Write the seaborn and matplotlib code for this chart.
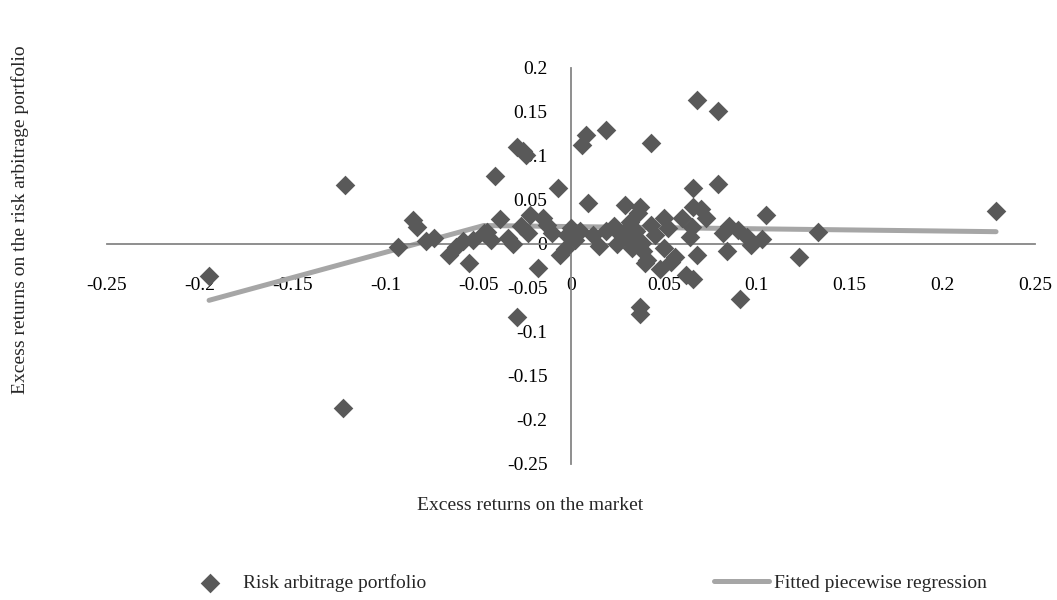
import matplotlib
matplotlib.use("Agg")
import matplotlib.pyplot as plt
import matplotlib.ticker as mticker
import seaborn as sns

# excess market return vs excess risk-arbitrage return
market_x = [-0.195, -0.122, -0.123, -0.093, -0.085, -0.083, -0.078, -0.074, -0.066, -0.062,
            -0.058, -0.055, -0.053, -0.045, -0.041, -0.038, -0.034, -0.031, -0.029, -0.026,
            -0.024, -0.027, -0.023, -0.029, -0.022, -0.018, -0.015, -0.013, -0.010, -0.007,
            -0.006, -0.003, 0.000, 0.002, 0.006, 0.008, 0.009, 0.005, 0.012, 0.015,
            0.019, 0.019, 0.023, 0.027, 0.029, 0.031, 0.032, 0.033, 0.035, 0.036,
            0.037, 0.038, 0.039, 0.041, 0.043, 0.037, 0.037, 0.043, 0.045, 0.048,
            0.050, 0.050, 0.052, 0.054, 0.056, 0.060, 0.062, 0.064, 0.065, 0.066,
            0.066, 0.066, 0.068, 0.068, 0.070, 0.073, 0.079, 0.079, 0.082, 0.085,
            0.084, 0.090, 0.091, 0.095, 0.097, 0.103, 0.105, 0.123, 0.133, 0.229,
            0.025, 0.029, -0.002, 0.040, -0.047, -0.043]
arb_y = [-0.036, 0.067, -0.186, -0.003, 0.027, 0.019, 0.003, 0.007, -0.012, -0.003,
         0.003, -0.022, 0.004, 0.014, 0.077, 0.028, 0.007, 0.000, 0.110, 0.106,
         0.101, 0.020, 0.012, -0.083, 0.033, -0.027, 0.030, 0.022, 0.012, 0.064,
         -0.012, -0.006, 0.018, 0.004, 0.113, 0.124, 0.047, 0.015, 0.010, -0.002,
         0.129, 0.015, 0.020, 0.010, 0.044, 0.005, 0.025, -0.005, 0.015, 0.035,
         0.042, 0.001, -0.008, -0.018, 0.115, -0.072, -0.080, 0.022, 0.010, -0.028,
         0.030, -0.005, 0.018, -0.020, -0.015, 0.030, -0.035, 0.008, 0.019, 0.042,
         0.064, -0.040, -0.013, 0.164, 0.040, 0.030, 0.151, 0.068, 0.012, 0.020,
         -0.008, 0.016, -0.062, 0.008, -0.001, 0.006, 0.033, -0.015, 0.014, 0.037,
         0.000, 0.015, 0.010, -0.022, 0.013, 0.005]

# fitted piecewise regression (two segments)
fit_x = [-0.195, -0.047, 0.229]
fit_y = [-0.064, 0.021, 0.014]

x_ticks = [-0.25, -0.2, -0.15, -0.1, -0.05, 0, 0.05, 0.1, 0.15, 0.2, 0.25]
y_ticks = [-0.25, -0.2, -0.15, -0.1, -0.05, 0, 0.05, 0.1, 0.15, 0.2]

sns.set_style("white")
plt.rcParams['font.family'] = ['Liberation Serif', 'DejaVu Serif']

fig = plt.figure(figsize=(10.57, 6), dpi=100)
ax = fig.add_axes([107 / 1057, 136 / 600, 928 / 1057, 396 / 600])

sns.lineplot(x=fit_x, y=fit_y, color='#A6A6A6', linewidth=3.6, ax=ax,
             label='Fitted piecewise regression', zorder=2)
sns.scatterplot(x=market_x, y=arb_y, marker='D', s=100, color='#595959', linewidth=0,
                ax=ax, label='Risk arbitrage portfolio', zorder=3)

ax.set_xlim(-0.25, 0.25)
ax.set_ylim(-0.25, 0.2)
ax.set_xticks(x_ticks)
ax.set_yticks(y_ticks)
fmt = mticker.FuncFormatter(lambda v, p: '0' if abs(v) < 1e-9 else ('%g' % round(v, 2)))
ax.xaxis.set_major_formatter(fmt)
ax.yaxis.set_major_formatter(fmt)

for side in ['top', 'right']:
    ax.spines[side].set_visible(False)
for side in ['left', 'bottom']:
    ax.spines[side].set_position(('data', 0))
    ax.spines[side].set_color('#868686')
    ax.spines[side].set_linewidth(1.3)
ax.tick_params(axis='both', colors='#868686', length=5, width=1.2, direction='out',
               labelcolor='black', labelsize=14)
ax.tick_params(axis='x', pad=19)
ax.tick_params(axis='y', pad=12)
ax.set_xlabel('')
ax.set_ylabel('')

fig.text(530 / 1057, 1 - 506 / 600, 'Excess returns on the market', ha='center', va='center',
         fontsize=14)
fig.text(20 / 1057, 1 - 220 / 600, 'Excess returns on the risk arbitrage portfolio',
         rotation=90, ha='center', va='center', fontsize=14)

handles, labels = ax.get_legend_handles_labels()
order = [labels.index('Risk arbitrage portfolio'), labels.index('Fitted piecewise regression')]
ax.legend([handles[i] for i in order], [labels[i] for i in order], ncol=2, frameon=False,
          loc='center', bbox_to_anchor=(585 / 1057, 1 - 583 / 600),
          bbox_transform=fig.transFigure, fontsize=14, handlelength=2.8,
          handletextpad=0.3, columnspacing=14.8)

fig.savefig('out.png', dpi=100)
